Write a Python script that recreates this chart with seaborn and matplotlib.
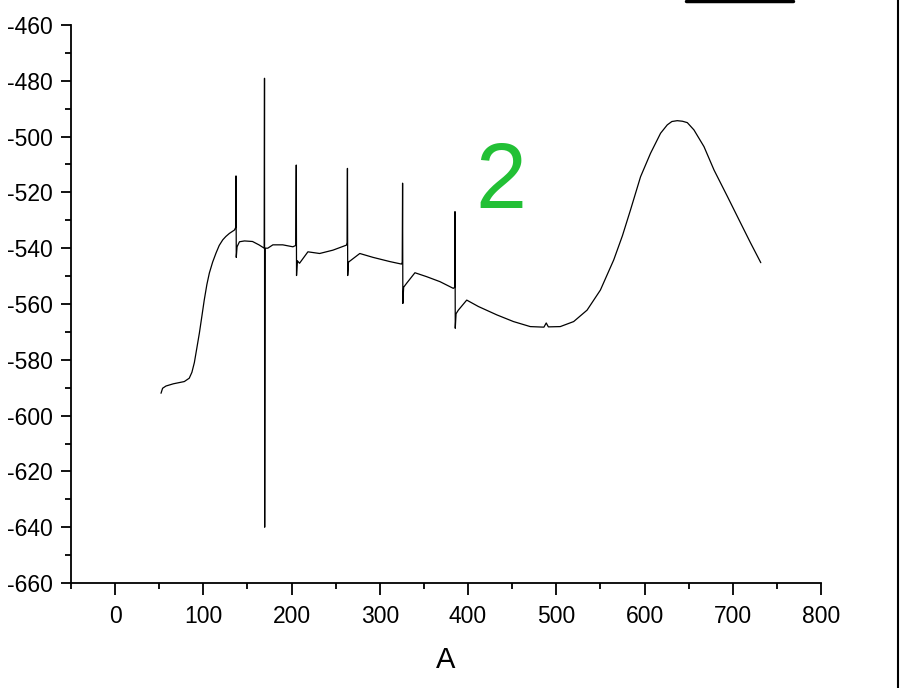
import numpy as np
import pandas as pd
import matplotlib
matplotlib.use("Agg")
import matplotlib.pyplot as plt
from matplotlib.lines import Line2D
import seaborn as sns

# trace (spikes are up/down excursions at nearly the same A)
a_vals = [52, 53.8, 57.6, 66, 78.4, 84, 87, 89.8, 92.5, 95.5, 98.5, 101, 104, 106.8, 110.5, 114.4,
          118, 122, 125.5, 129.5, 135.2,
          136.8, 137.0, 137.3, 138.2,
          140.9, 146.6, 155.7, 163, 169.0,
          169.3, 169.5, 170.0,
          173, 178.8, 190, 201.5, 204.8,
          205.3, 205.6, 206.5,
          209, 218.5, 231.8, 246.9, 262.2, 262.9,
          263.3, 263.6, 264.5,
          267.8, 277.3, 292.4, 311.4, 324.6, 325.4,
          325.8, 326.1, 327.0,
          330.3, 339.8, 353, 368.2, 383.3, 384.8,
          385.2, 385.5, 386.4,
          389, 398.5, 411.7, 432.6, 451.5, 470.5, 486, 488.6, 491, 504.5, 519.7,
          534.9, 550, 565.1, 575, 584.1, 595.5, 606.8, 618.2, 625.8, 631, 637.1, 643,
          648.5, 656, 667.4, 678.8, 694, 709.1, 720, 731.8]
signal = [-592, -590.2, -589.4, -588.6, -587.8, -586.6, -584.5, -581, -576, -570.4, -564, -558.6, -553, -548.9, -545, -541.7,
          -539, -537, -535.8, -534.7, -533.5,
          -532.5, -514.1, -543.3, -539.5,
          -537.7, -537.4, -537.6, -538.8, -540,
          -479.1, -640.0, -540,
          -540, -538.8, -538.8, -539.5, -539.0,
          -510.2, -549.8, -544.5,
          -545.4, -541.3, -541.9, -540.7, -538.9, -538.0,
          -511.4, -549.8, -545.0,
          -544.2, -541.9, -543.3, -544.8, -545.7, -545.0,
          -516.7, -559.8, -554.0,
          -552.6, -548.8, -550.2, -552, -554.4, -554.0,
          -526.9, -568.7, -563.5,
          -562.2, -558.6, -560.9, -563.9, -566.3, -568.1, -568.3, -566.8, -568.2, -568.1, -566.3,
          -562.2, -555, -544.2, -535.5, -526.3, -514.4, -506, -498.8, -495.8, -494.6, -494.3, -494.5,
          -495, -497.6, -503.6, -512, -521.5, -531.1, -538.0, -545.2]

df = pd.DataFrame({"A": a_vals, "signal": signal})

sns.set_style("ticks")
plt.rcParams["font.family"] = ["Liberation Sans", "DejaVu Sans"]
plt.rcParams["axes.unicode_minus"] = False

fig = plt.figure(figsize=(9, 6.88), dpi=100)
ax = fig.add_axes([0.0789, 0.1526, 0.8333, 0.8111])

sns.lineplot(data=df, x="A", y="signal", sort=False, estimator=None,
             color="black", linewidth=0.9, ax=ax)

ax.set_xlim(-50, 800)
ax.set_ylim(-660, -460)
ax.set_xticks(np.arange(0, 801, 100))
ax.set_xticks(np.arange(-50, 801, 50), minor=True)
ax.set_yticks(np.arange(-660, -459, 20))
ax.set_yticks(np.arange(-650, -459, 10), minor=True)

sns.despine(ax=ax)
for s in ["left", "bottom"]:
    ax.spines[s].set_linewidth(1.3)
    ax.spines[s].set_color("black")
ax.tick_params(which="major", length=7, width=1.3, labelsize=16.5, colors="black")
ax.tick_params(axis="y", which="major", pad=6)
ax.tick_params(axis="x", which="major", length=8.5, pad=7)
ax.tick_params(which="minor", length=4.5, width=1.3, colors="black")

ax.set_xlabel("A", fontsize=21, labelpad=13, color="black")
ax.set_ylabel("")

ax.text(437, -517, "2", color="#22c035", fontsize=66, ha="center", va="center")

# cropped edges of the original screenshot
fig.add_artist(Line2D([686 / 900, 793 / 900], [0.998, 0.998], color="black", linewidth=2.5))
fig.add_artist(Line2D([898 / 900, 898 / 900], [0, 1], color="black", linewidth=1.5))

fig.savefig("out.png", dpi=100)
